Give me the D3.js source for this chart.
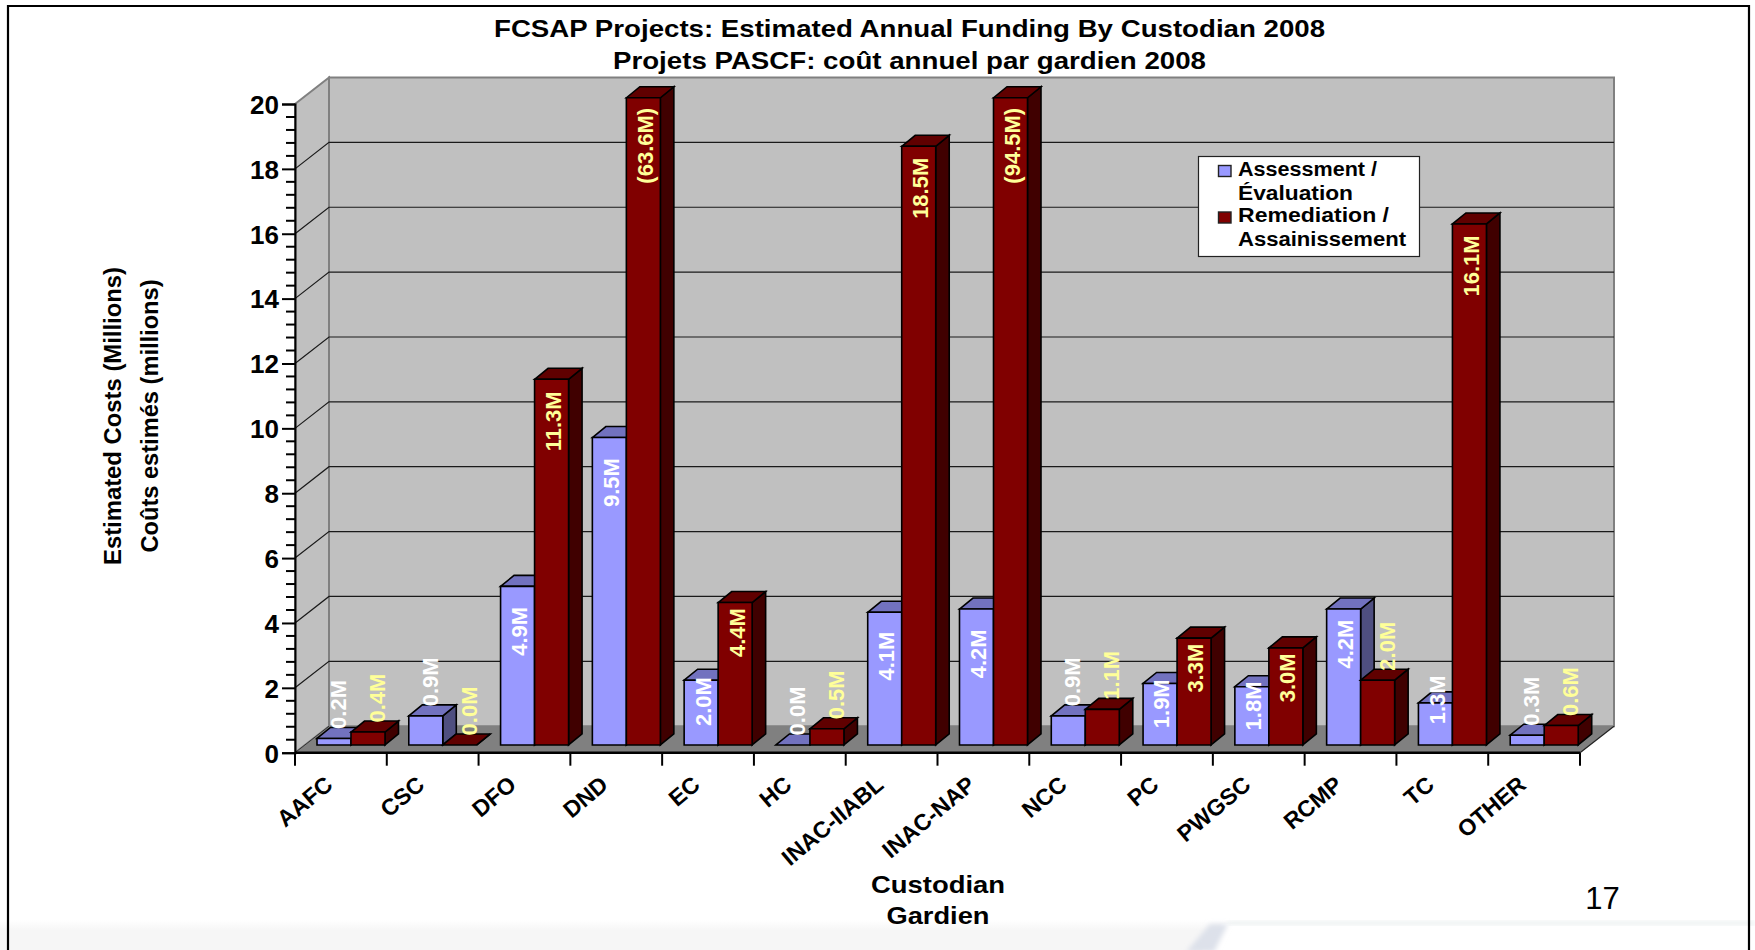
<!DOCTYPE html>
<html><head><meta charset="utf-8">
<script src="https://cdn.jsdelivr.net/npm/d3@7"></script>
<style>html,body{margin:0;padding:0;background:#fff;overflow:hidden}text{font-family:"Liberation Sans",Arial,sans-serif}</style>
</head><body><svg id="c" width="1755" height="950"></svg>
<script>
const categories=["AAFC","CSC","DFO","DND","EC","HC","INAC-IIABL","INAC-NAP","NCC","PC","PWGSC","RCMP","TC","OTHER"];
const assessment=[0.2,0.9,4.9,9.5,2.0,0.0,4.1,4.2,0.9,1.9,1.8,4.2,1.3,0.3];
const remediation=[0.4,0.0,11.3,63.6,4.4,0.5,18.5,94.5,1.1,3.3,3.0,2.0,16.1,0.6];
const remediationBracketed=["DND","INAC-NAP"];
const yTicks=[0,2,4,6,8,10,12,14,16,18,20];
const seriesNames=[["Assessment /","Évaluation"],["Remediation /","Assainissement"]];
const titleLines=["FCSAP Projects: Estimated Annual Funding By Custodian 2008","Projets PASCF: coût annuel par gardien 2008"];

const svg=d3.select("#c");
const left=295,right=1580,y0=752.7,y20=104;
const depthX=34,depthY=26.5,barDX=13.5,barDY=11;
const offY=(depthY-barDY)/2;
const x=d3.scaleBand().domain(categories).range([left,right]);
const y=d3.scaleLinear().domain([0,20]).range([y0,y20]).clamp(true);
const yBar=d3.scaleLinear().domain([0,20]).range([y0-offY,y20-offY+1.5]).clamp(true);
const C={blue:"#9999ff",blueTop:"#7272bf",blueSide:"#4f4f80",red:"#800000",redTop:"#600000",redSide:"#400000",wall:"#c0c0c0",floor:"#808080"};
const poly=(g,pts,fill,stroke,sw)=>g.append("polygon").attr("points",pts.map(p=>p.join(",")).join(" ")).attr("fill",fill).attr("stroke",stroke||"none").attr("stroke-width",sw||0).attr("stroke-linejoin","miter");

/* slide background */
const defs=svg.append("defs");
const gr=defs.append("linearGradient").attr("id","fade").attr("x1",0).attr("x2",0).attr("y1",0).attr("y2",1);
gr.append("stop").attr("offset",0).attr("stop-color","#ffffff");
gr.append("stop").attr("offset",0.35).attr("stop-color","#f6f6f6");
gr.append("stop").attr("offset",1).attr("stop-color","#f6f6f6");
defs.append("filter").attr("id","soft").attr("x","-20%").attr("y","-20%").attr("width","140%").attr("height","140%").append("feGaussianBlur").attr("stdDeviation",2.5);
const bg=svg.append("g");
bg.append("rect").attr("x",0).attr("y",920).attr("width",1240).attr("height",30).attr("fill","url(#fade)");
poly(bg,[[1222,924],[1755,924],[1755,950],[1202,950]],"#ffffff");
bg.append("rect").attr("x",1228).attr("y",921.5).attr("width",527).attr("height",3.5).attr("fill","#e8eeee").attr("filter","url(#soft)");
poly(bg,[[1210,924],[1228,924],[1214,952],[1186,952]],"#dde1ea").attr("filter","url(#soft)");

/* frame */
svg.append("path").attr("d",`M8,950V6H1749V950`).attr("fill","none").attr("stroke","#000").attr("stroke-width",2.2);

/* walls and floor */
const walls=svg.append("g");
poly(walls,[[left,y20],[left+depthX,y20-depthY],[left+depthX,y0-depthY],[left,y0]],C.wall,"#808080",2);
poly(walls,[[left+depthX,y20-depthY],[right+depthX,y20-depthY],[right+depthX,y0-depthY],[left+depthX,y0-depthY]],C.wall,"#808080",2);
poly(walls,[[left,y0],[left+depthX,y0-depthY],[right+depthX,y0-depthY],[right,y0]],C.floor);
walls.selectAll("path.grid").data(yTicks.filter(t=>t>0&&t<20)).join("path").attr("class","grid")
  .attr("d",t=>`M${left},${y(t)}L${left+depthX},${y(t)-depthY}H${right+depthX}`)
  .attr("fill","none").attr("stroke","#1a1a1a").attr("stroke-width",1.2);
walls.append("path").attr("d",`M${left},${y0}L${left+depthX},${y0-depthY}`).attr("stroke","#333").attr("stroke-width",1);
walls.append("path").attr("d",`M${right},${y0}L${right+depthX},${y0-depthY}`).attr("stroke","#222").attr("stroke-width",1.2);

/* y axis */
const axisY=d3.axisLeft(y).tickValues(yTicks).tickSize(13).tickPadding(3).tickFormat(d3.format("d"));
const gy=svg.append("g").attr("transform",`translate(${left},0)`).call(axisY);
gy.select(".domain").attr("stroke","#000").attr("stroke-width",2);
gy.selectAll(".tick line").attr("stroke","#000").attr("stroke-width",2);
gy.selectAll("text").attr("font-size",26).attr("font-weight","bold").attr("fill","#000").attr("font-family",'"Liberation Sans"').attr("transform","translate(0,1)");
const minor=d3.range(0,20.01,0.4).filter(v=>Math.abs(v/2-Math.round(v/2))>1e-6);
gy.selectAll("line.minor").data(minor).join("line").attr("class","minor").attr("x1",-9).attr("x2",0).attr("y1",v=>y(v)).attr("y2",v=>y(v)).attr("stroke","#000").attr("stroke-width",2);

/* x axis */
const ga=svg.append("g");
ga.append("line").attr("x1",left).attr("x2",right).attr("y1",y0).attr("y2",y0).attr("stroke","#000").attr("stroke-width",2.4);
const edges=[left].concat(categories.map(c=>x(c)+x.bandwidth()));
ga.selectAll("line.t").data(edges).join("line").attr("class","t").attr("x1",d=>d).attr("x2",d=>d).attr("y1",y0).attr("y2",y0+13).attr("stroke","#000").attr("stroke-width",2);
ga.selectAll("text").data(categories).join("text")
  .attr("transform",c=>`translate(${x(c)+x.bandwidth()/2-17},${y0+22}) rotate(-40)`)
  .attr("text-anchor","end").attr("dy","0.7em").attr("font-size",23).attr("font-weight","bold").attr("fill","#000").text(c=>c);

/* bars */
const barW=34,inset=22;
const barsG=svg.append("g");
function bar(cat,val,i){
  const x0=x(cat)+inset+i*barW, x1=x0+barW;
  const yb=yBar(0), yt=yBar(val);
  const g=barsG.append("g");
  const top=i?C.redTop:C.blueTop, side=i?C.redSide:C.blueSide, face=i?C.red:C.blue;
  const s="#000",w=1.6;
  poly(g,[[x1,yb],[x1+barDX,yb-barDY],[x1+barDX,yt-barDY],[x1,yt]],side,s,w);
  poly(g,[[x0,yt],[x0+barDX,yt-barDY],[x1+barDX,yt-barDY],[x1,yt]],top,s,w);
  if(yb-yt>0.5) poly(g,[[x0,yb],[x1,yb],[x1,yt],[x0,yt]],face,s,w);
}
categories.forEach((c,k)=>{bar(c,assessment[k],0);bar(c,remediation[k],1);});

/* value labels */
const labelsG=svg.append("g");
function label(cat,val,i){
  const x0=x(cat)+inset+i*barW, cx=x0+barW/2;
  const yb=yBar(0), yt=yBar(val), h=yb-yt;
  const short=val<=1.1||(i===1&&val===2.0);
  let dx,cy;
  if(short){dx=i?9:4;cy=yt-34;}
  else if(val===1.3){dx=2;cy=yt-3;}
  else if(i===1){dx=1.5;cy=yt+(val<5?30:val>50?48:42);}
  else{dx=1.5;cy=yt+Math.min(h*0.33,cat==="RCMP"?35:45);}
  const txt=val.toFixed(1)+"M";
  labelsG.append("text").attr("transform",`translate(${cx+dx},${cy}) rotate(-90)`)
    .attr("text-anchor","middle").attr("dy","0.36em").attr("font-size",22).attr("font-weight","bold")
    .attr("fill",i?"#ffff99":"#ffffff")
    .text(i&&remediationBracketed.includes(cat)?`(${txt})`:txt);
}
categories.forEach((c,k)=>{label(c,assessment[k],0);label(c,remediation[k],1);});

/* legend */
const lg=svg.append("g");
lg.append("rect").attr("x",1198.5).attr("y",156.5).attr("width",221).attr("height",100).attr("fill","#fff").attr("stroke","#222").attr("stroke-width",1.2);
[C.blue,C.red].forEach((col,i)=>{
  lg.append("rect").attr("x",1218.5).attr("y",165.5+i*46.5).attr("width",12.5).attr("height",11).attr("fill",col).attr("stroke","#222").attr("stroke-width",1.4);
});
const legendLen=[[139,115],[151,168]];
const legendBase=[[176,200],[222,246]];
seriesNames.forEach((ls,i)=>ls.forEach((t,j)=>{
  lg.append("text").attr("x",1238).attr("y",legendBase[i][j]).attr("font-size",20).attr("font-weight","bold")
    .attr("textLength",legendLen[i][j]).attr("lengthAdjust","spacingAndGlyphs").text(t);
}));

/* titles */
const tt=svg.append("g");
tt.append("text").attr("x",909.5).attr("y",36.5).attr("text-anchor","middle").attr("font-size",24).attr("font-weight","bold").attr("textLength",831).attr("lengthAdjust","spacingAndGlyphs").text(titleLines[0]);
tt.append("text").attr("x",909.5).attr("y",68.5).attr("text-anchor","middle").attr("font-size",24).attr("font-weight","bold").attr("textLength",593).attr("lengthAdjust","spacingAndGlyphs").text(titleLines[1]);
tt.append("text").attr("transform","translate(121,416) rotate(-90)").attr("text-anchor","middle").attr("font-size",24).attr("font-weight","bold").attr("textLength",298).attr("lengthAdjust","spacingAndGlyphs").text("Estimated Costs (Millions)");
tt.append("text").attr("transform","translate(158,416) rotate(-90)").attr("text-anchor","middle").attr("font-size",24).attr("font-weight","bold").attr("textLength",273).attr("lengthAdjust","spacingAndGlyphs").text("Coûts estimés (millions)");
tt.append("text").attr("x",938).attr("y",893).attr("text-anchor","middle").attr("font-size",24).attr("font-weight","bold").attr("textLength",134).attr("lengthAdjust","spacingAndGlyphs").text("Custodian");
tt.append("text").attr("x",938).attr("y",924).attr("text-anchor","middle").attr("font-size",24).attr("font-weight","bold").attr("textLength",103).attr("lengthAdjust","spacingAndGlyphs").text("Gardien");
tt.append("text").attr("x",1602.5).attr("y",909).attr("text-anchor","middle").attr("font-size",31).text("17");
</script></body></html>
